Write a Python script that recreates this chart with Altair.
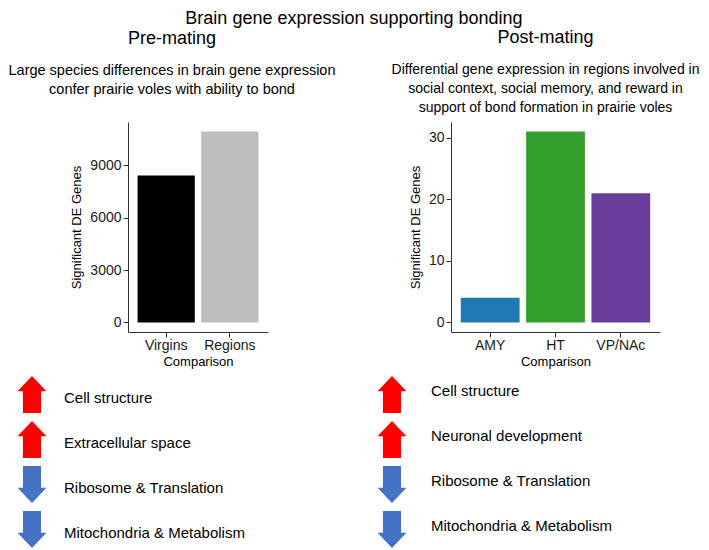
import altair as alt
import pandas as pd

# ---------------- data ----------------
pre_categories = ["Virgins", "Regions"]
pre_values = [8420, 10930]
pre_colors = ["#000000", "#BEBEBE"]
pre_ticks = [0, 3000, 6000, 9000]

post_categories = ["AMY", "HT", "VP/NAc"]
post_values = [4, 31, 21]
post_colors = ["#1F78B4", "#33A02C", "#6A3D9A"]
post_ticks = [0, 10, 20, 30]

pre_terms = ["Cell structure", "Extracellular space",
             "Ribosome & Translation", "Mitochondria & Metabolism"]
pre_dirs = ["up", "up", "down", "down"]
post_terms = ["Cell structure", "Neuronal development",
              "Ribosome & Translation", "Mitochondria & Metabolism"]
post_dirs = ["up", "up", "down", "down"]

main_title = "Brain gene expression supporting bonding"
pre_title = "Pre-mating"
pre_subtitle = ["Large species differences in brain gene expression",
                "confer prairie voles with ability to bond"]
post_title = "Post-mating"
post_subtitle = ["Differential gene expression in regions involved in",
                 "social context, social memory, and reward in",
                 "support of bond formation in prairie voles"]

FONT = "Liberation Sans"
UP = "M0,-1L0.78,-0.18L0.49,-0.18L0.49,1L-0.49,1L-0.49,-0.18L-0.78,-0.18Z"
DOWN = "M0,1L0.78,0.18L0.49,0.18L0.49,-1L-0.49,-1L-0.49,0.18L-0.78,0.18Z"


def bar_chart(cats, vals, colors, ticks, width, title, subtitle,
              sub_size, offset, dx):
    df = pd.DataFrame({"Comparison": cats, "DE": vals})
    vmax = max(vals)
    return alt.Chart(df).mark_bar().encode(
        x=alt.X("Comparison:N", sort=cats,
                scale=alt.Scale(paddingInner=0.1, paddingOuter=0.15),
                axis=alt.Axis(title="Comparison", labelAngle=0,
                              labelPadding=1, titlePadding=3)),
        y=alt.Y("DE:Q",
                scale=alt.Scale(domain=[-0.05 * vmax, 1.05 * vmax],
                                nice=False, zero=False),
                axis=alt.Axis(title="Significant DE Genes", values=ticks,
                              format="d", labelPadding=2, titlePadding=6)),
        y2=alt.datum(0),
        color=alt.Color("Comparison:N",
                        scale=alt.Scale(domain=cats, range=colors),
                        legend=None),
    ).properties(
        width=width, height=210,
        title=alt.TitleParams(
            text=title, subtitle=subtitle, fontSize=18, font=FONT,
            fontWeight="normal", color="black", subtitleFont=FONT,
            subtitleFontSize=sub_size, subtitleColor="black",
            subtitleLineHeight=19, subtitlePadding=16, anchor="middle",
            frame="group", offset=offset, dx=dx),
    )


def arrow_chart(terms, dirs, width, arrow_x, text_x, text_dy):
    df = pd.DataFrame({"term": terms, "dir": dirs})
    y = alt.Y("term:N", sort=terms, axis=None,
              scale=alt.Scale(padding=0.5))
    arrows = alt.Chart(df).mark_point(
        filled=True, size=1369, opacity=1, strokeWidth=0
    ).encode(
        x=alt.value(arrow_x), y=y,
        shape=alt.Shape("dir:N", scale=alt.Scale(domain=["up", "down"],
                                                 range=[UP, DOWN]),
                        legend=None),
        color=alt.Color("dir:N", scale=alt.Scale(domain=["up", "down"],
                                                 range=["#FF0000", "#4472C4"]),
                        legend=None),
    )
    texts = alt.Chart(df).mark_text(
        align="left", baseline="middle", fontSize=15, font=FONT,
        color="black", dy=text_dy
    ).encode(x=alt.value(text_x), y=y, text="term:N")
    return alt.layer(arrows, texts).properties(width=width, height=180)


left_bar = bar_chart(pre_categories, pre_values, pre_colors, pre_ticks, 140,
                     pre_title, pre_subtitle, 14.5, 26, -26)
right_bar = bar_chart(post_categories, post_values, post_colors, post_ticks,
                      209, post_title, post_subtitle, 14, 7, -10)

left_arr = arrow_chart(pre_terms, pre_dirs, 140, -96, -64, 3)
right_arr = arrow_chart(post_terms, post_dirs, 209, -59, -20, -4)

chart = alt.concat(
    left_bar, right_bar, left_arr, right_arr,
    columns=2, bounds="flush", align="each",
    spacing={"row": 40, "column": 183},
).resolve_scale(
    color="independent", shape="independent"
).properties(
    title=alt.TitleParams(main_title, fontSize=18, font=FONT,
                          fontWeight="normal", color="black",
                          anchor="middle", frame="bounds", offset=1),
    padding={"left": 0, "top": 2, "right": 0, "bottom": 0},
).configure_view(
    stroke=None
).configure_axis(
    domainColor="#333333", tickColor="#333333", tickSize=5,
    domainWidth=1, tickWidth=1, grid=False,
    labelFont=FONT, titleFont=FONT, labelFontSize=14, titleFontSize=13,
    labelColor="#1a1a1a", titleColor="black", titleFontWeight="normal",
)

chart.save("out.html", embed_options={"renderer": "svg", "actions": False})
